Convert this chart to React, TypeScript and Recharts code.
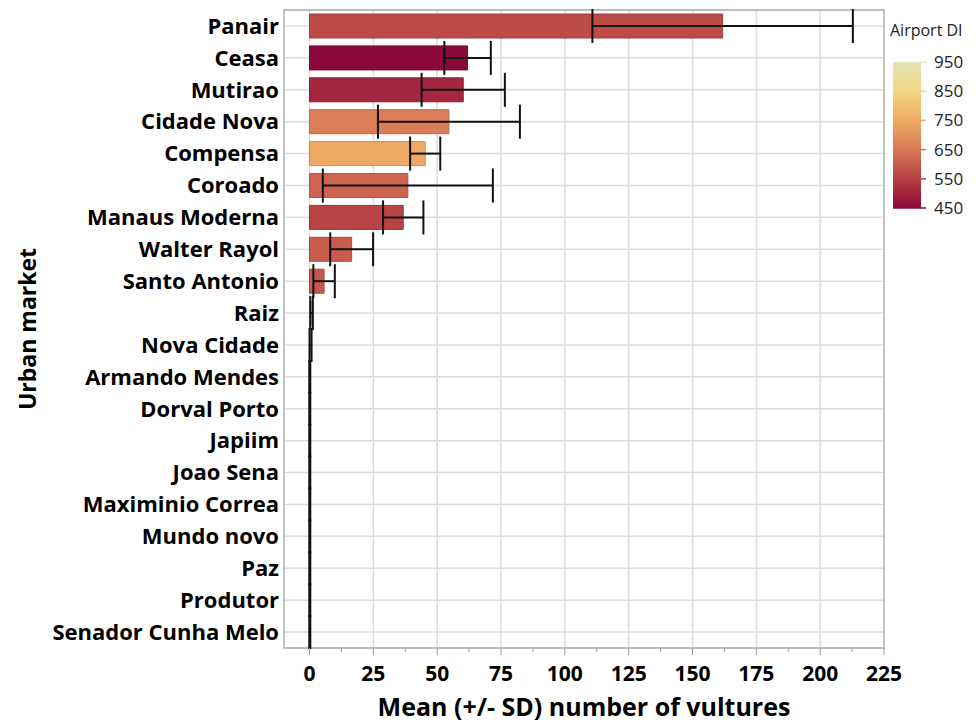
import {
  BarChart,
  Bar,
  XAxis,
  YAxis,
  CartesianGrid,
  ErrorBar,
  ReferenceArea,
  Cell,
  Label,
} from 'recharts';

const markets = [
  'Panair',
  'Ceasa',
  'Mutirao',
  'Cidade Nova',
  'Compensa',
  'Coroado',
  'Manaus Moderna',
  'Walter Rayol',
  'Santo Antonio',
  'Raiz',
  'Nova Cidade',
  'Armando Mendes',
  'Dorval Porto',
  'Japiim',
  'Joao Sena',
  'Maximinio Correa',
  'Mundo novo',
  'Paz',
  'Produtor',
  'Senador Cunha Melo',
];
const meanVultures = [161.8, 61.9, 60.2, 54.6, 45.3, 38.5, 36.7, 16.5, 5.7, 0.8, 0.4, 0.1, 0.1, 0.1, 0.1, 0.1, 0.1, 0.1, 0.1, 0.1];
const sdVultures = [51, 9.1, 16.3, 27.8, 5.9, 33.3, 7.9, 8.4, 4.2, 0.5, 0.4, 0.2, 0.2, 0.2, 0.2, 0.2, 0.2, 0.2, 0.2, 0.2];
const airportDI = [570, 450, 505, 660, 745, 615, 555, 600, 595, 560, 620, 700, 640, 680, 520, 610, 720, 580, 650, 600];

const xTicks = [0, 12.5, 25, 37.5, 50, 62.5, 75, 87.5, 100, 112.5, 125, 137.5, 150, 162.5, 175, 187.5, 200, 212.5, 225];
const xGrid = [0, 25, 50, 75, 100, 125, 150, 175, 200];
const legendTicks = [450, 550, 650, 750, 850, 950];

// colour ramp used by the DI colour scale
const ramp = [
  { v: 450, c: [139, 8, 58] },
  { v: 550, c: [182, 64, 66] },
  { v: 650, c: [218, 120, 88] },
  { v: 750, c: [238, 172, 100] },
  { v: 850, c: [244, 214, 130] },
  { v: 950, c: [226, 228, 184] },
];

const diColor = (v: number, k = 1) => {
  let i = 0;
  while (i < ramp.length - 2 && v > ramp[i + 1].v) i++;
  const a = ramp[i];
  const b = ramp[i + 1];
  const t = Math.max(0, Math.min(1, (v - a.v) / (b.v - a.v)));
  const c = a.c.map((x, j) => Math.round((x + (b.c[j] - x) * t) * k));
  return `rgb(${c[0]},${c[1]},${c[2]})`;
};

const data = markets.map((name, i) => ({
  name,
  mean: meanVultures[i],
  sd: sdVultures[i],
  di: airportDI[i],
}));

const FONT = "'Open Sans', 'Noto Sans', sans-serif";

const XTick = ({ x, y, payload }: any) => {
  const major = payload.value % 25 === 0;
  return (
    <g>
      <line x1={x} x2={x} y1={y} y2={y + (major ? 7 : 4)} stroke="#9a9a9a" strokeWidth={1} />
      {major && (
        <text x={x} y={y + 33} textAnchor="middle" fontSize={21} fontWeight={700} fill="#000" fontFamily={FONT}>
          {payload.value}
        </text>
      )}
    </g>
  );
};

function ColorLegend() {
  const top = 62;
  const bottom = 208;
  const yOf = (v: number) => bottom - ((v - 450) / 500) * (bottom - top);
  return (
    <svg width={99} height={230} style={{ position: 'absolute', left: 880, top: 0 }}>
      <defs>
        <linearGradient id="diGrad" x1="0" y1="1" x2="0" y2="0">
          {ramp.map((s) => (
            <stop key={s.v} offset={`${((s.v - 450) / 500) * 100}%`} stopColor={diColor(s.v)} />
          ))}
        </linearGradient>
      </defs>
      <text x={10} y={36} fontSize={16} fill="#222" fontFamily={FONT}>
        Airport DI
      </text>
      <rect x={13} y={top} width={28} height={bottom - top} fill="url(#diGrad)" />
      {legendTicks.map((v) => (
        <g key={v}>
          <line x1={41} x2={46} y1={yOf(v)} y2={yOf(v)} stroke={diColor(v)} strokeWidth={1.5} />
          <text x={54} y={yOf(v) + 6} fontSize={17} fill="#222" fontFamily={FONT}>
            {v}
          </text>
        </g>
      ))}
      <line x1={13} x2={41} y1={bottom} y2={bottom} stroke={diColor(450)} strokeWidth={1.5} />
    </svg>
  );
}

export default function App() {
  return (
    <div style={{ position: 'relative', width: 979, height: 723, background: '#fff' }}>
      <style>{`body { margin: 0; }`}</style>
      <BarChart
        width={979}
        height={723}
        data={data}
        layout="vertical"
        margin={{ top: 10, right: 95, bottom: 0, left: 0 }}
        barSize={24}
      >
        <CartesianGrid stroke="#dcdcdc" strokeWidth={1.5} verticalValues={xGrid} />
        <XAxis
          type="number"
          domain={[-10, 225]}
          ticks={xTicks}
          allowDataOverflow
          interval={0}
          axisLine={false}
          tickLine={false}
          tickSize={0}
          tickMargin={0}
          height={75}
          tick={<XTick />}
        >
          <Label
            value="Mean (+/- SD) number of vultures"
            position="insideBottom"
            offset={7}
            style={{ fontSize: 25, fontWeight: 700, fill: '#000', fontFamily: FONT }}
          />
        </XAxis>
        <YAxis
          type="category"
          dataKey="name"
          width={284}
          axisLine={false}
          tickLine={false}
          tickSize={5}
          tickMargin={0}
          interval={0}
          tick={{ fontSize: 22, fontWeight: 700, fill: '#000', fontFamily: FONT }}
        >
          <Label
            value="Urban market"
            angle={-90}
            position="insideLeft"
            offset={28}
            style={{ fontSize: 23, fontWeight: 700, fill: '#000', fontFamily: FONT, textAnchor: 'middle' }}
          />
        </YAxis>
        <ReferenceArea x1={-10} x2={225} fill="none" stroke="#b0b0b0" strokeWidth={1.5} ifOverflow="visible" />
        <Bar dataKey="mean" isAnimationActive={false}>
          {data.map((d) => (
            <Cell
              key={d.name}
              fill={diColor(d.di)}
              stroke={diColor(d.di, 0.85)}
              strokeWidth={d.mean >= 1 ? 1 : 0}
            />
          ))}
          <ErrorBar dataKey="sd" direction="x" width={17} stroke="#111" strokeWidth={2} />
        </Bar>
      </BarChart>
      <ColorLegend />
    </div>
  );
}
